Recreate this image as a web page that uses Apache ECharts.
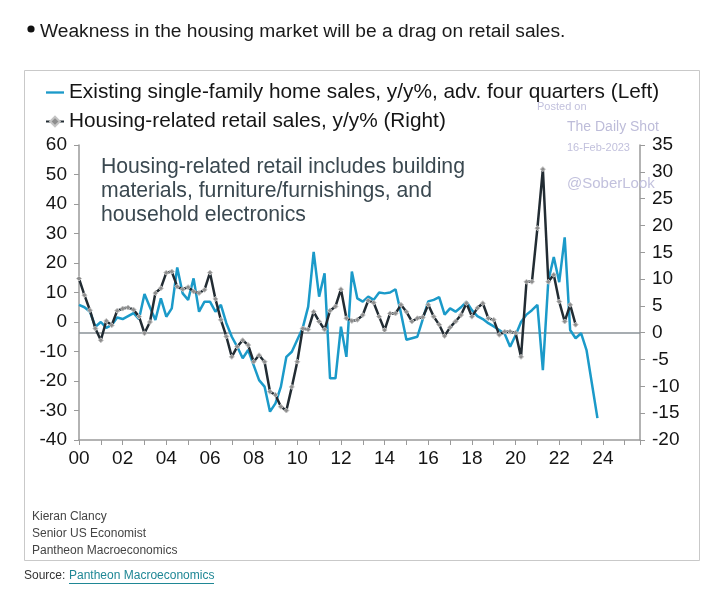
<!DOCTYPE html>
<html>
<head>
<meta charset="utf-8">
<script src="https://cdn.jsdelivr.net/npm/echarts@6/dist/echarts.min.js"></script>
<style>
html,body{margin:0;padding:0;background:#fff;}
#chart{width:720px;height:592px;}
</style>
</head>
<body>
<div id="chart"></div>
<script>
// ---- data (quarterly, starting 2000 Q1) ----
const startYear = 2000;
const seriesNames = [
  'Existing single-family home sales, y/y%, adv. four quarters (Left)',
  'Housing-related retail sales, y/y% (Right)'
];
// Existing single-family home sales, y/y%, advanced four quarters (left axis)
const homeSales = [
  5.8, 5.0, 3.5, -1.6,   0.0, -2.0, -1.0, 1.5,   1.0, 2.0, 3.0, 1.0,
  9.5, 5.0, 0.7, 8.0,    1.8, 4.6, 18.5, 9.7,   7.5, 14.8, 3.5, 6.9,
  6.9, 3.5, 5.8, -0.4,   -5.0, -8.4, -12.3, -9.5,   -14.6, -19.7, -21.9, -30.4,
  -27.6, -21.9, -11.8, -10.1,   -6.0, -2.0, 5.2, 23.8,   8.6, 16.5, -19.1, -19.1,
  -1.6, -11.8, 17.1, 8.0,   6.9, 8.6, 7.5, 10.0,   9.7, 10.0, 11.1, 3.0,
  -6.0, -5.5, -5.0, 1.0,   7.0, 7.5, 8.4, 2.5,   4.6, 3.5, 5.0, 6.9,
  4.0, 2.0, 1.0, -0.4,   -1.5, -2.7, -4.0, -8.4,   -4.5, 0.0, 2.5, 4.0,
  5.8, -16.3, 14.0, 22.0,   13.5, 28.7, -2.7, -5.5,   -3.8, -9.5, -21.0, -32.6
];
// Housing-related retail sales, y/y% (right axis)
const retailSales = [
  10.1, 7.0, 4.2, 0.8,   -1.4, 2.2, 1.4, 4.1,   4.5, 4.7, 4.3, 3.0,
  -0.1, 2.0, 7.4, 8.3,   11.2, 11.4, 8.6, 8.1,   8.5, 7.7, 7.4, 8.0,
  11.2, 6.3, 2.4, -0.7,   -4.5, -2.6, -1.4, -2.3,   -5.4, -4.2, -5.4, -11.0,
  -11.6, -13.8, -14.5, -10.1,   -5.4, 0.8, 0.6, 3.9,   2.1, 0.6, 4.1, 4.9,
  8.1, 2.7, 2.2, 2.4,   3.3, 6.0, 5.6, 3.0,   0.5, 3.6, 3.6, 5.2,
  3.9, 2.1, 2.7, 2.9,   5.2, 3.0, 1.5, -0.6,   1.0, 2.1, 3.3, 5.5,
  3.0, 4.6, 5.5, 2.7,   2.4, -0.4, 0.2, 0.2,   0.0, -4.5, 9.5, 9.5,
  19.5, 30.5, 9.5, 10.8,   5.8, 2.1, 5.2, 1.5
];
const leftTicks = {min: -40, max: 60, step: 10};
const rightTicks = {min: -20, max: 35, step: 5};
const xRange = {min: 2000, max: 2025.7, step: 1};

const toPairs = arr => arr.map((v, i) => [startYear + i * 0.25, v]);

const FONT = '"Liberation Sans", Arial, sans-serif';
const chart = echarts.init(document.getElementById('chart'), null, {renderer: 'canvas'});

const option = {
  backgroundColor: '#ffffff',
  animation: false,
  textStyle: {fontFamily: FONT},
  grid: {left: 79, right: 80, top: 145, bottom: 152, containLabel: false},
  legend: {
    orient: 'vertical', left: 45, top: 82, itemGap: 8, padding: 0,
    itemWidth: 18, itemHeight: 12, itemTextGap: 5,
    textStyle: {fontSize: 20.8, color: '#151515', fontFamily: FONT},
    data: [
      {name: seriesNames[0], icon: 'path://M0,0H20V2.6H0Z'},
      {name: seriesNames[1]}
    ]
  },
  xAxis: {
    type: 'value', min: xRange.min, max: xRange.max, interval: xRange.step,
    axisLine: {show: true, onZero: false, lineStyle: {color: '#9a9a9a', width: 1.5}},
    axisTick: {show: true, inside: false, length: 5, lineStyle: {color: '#9a9a9a'}},
    splitLine: {show: false},
    axisLabel: {
      fontSize: 19, color: '#151515', margin: 9, fontFamily: FONT,
      formatter: v => (Number.isInteger(v) && v % 2 === 0) ? String(v % 100).padStart(2, '0') : ''
    }
  },
  yAxis: [
    {
      type: 'value', min: leftTicks.min, max: leftTicks.max, interval: leftTicks.step, position: 'left',
      axisLine: {show: true, onZero: false, lineStyle: {color: '#9a9a9a', width: 1.5}},
      axisTick: {show: true, inside: false, length: 5, lineStyle: {color: '#9a9a9a'}},
      splitLine: {show: false},
      axisLabel: {fontSize: 19, color: '#151515', margin: 12, fontFamily: FONT}
    },
    {
      type: 'value', min: rightTicks.min, max: rightTicks.max, interval: rightTicks.step, position: 'right',
      axisLine: {show: true, onZero: false, lineStyle: {color: '#9a9a9a', width: 1.5}},
      axisTick: {show: true, inside: false, length: 5, lineStyle: {color: '#9a9a9a'}},
      splitLine: {show: false},
      axisLabel: {fontSize: 19, color: '#151515', margin: 12, fontFamily: FONT}
    }
  ],
  series: [
    {
      name: seriesNames[0], type: 'line', yAxisIndex: 0,
      data: toPairs(homeSales),
      symbol: 'none', showSymbol: false,
      lineStyle: {color: '#1b9ac9', width: 2.5},
      itemStyle: {color: '#1b9ac9'},
      z: 3
    },
    {
      name: seriesNames[1], type: 'line', yAxisIndex: 1,
      data: toPairs(retailSales),
      symbol: 'diamond', symbolSize: 5, showSymbol: true,
      lineStyle: {color: '#222c33', width: 2.5},
      itemStyle: {color: '#8d8d8d', borderColor: '#c4c4c4', borderWidth: 1},
      z: 4,
      markLine: {
        silent: true, symbol: 'none', label: {show: false},
        lineStyle: {color: '#8a9297', width: 1.5, type: 'solid'},
        data: [{yAxis: 0}],
        z: 2
      }
    }
  ],
  graphic: [
    // page bullet text
    {type: 'circle', shape: {cx: 31, cy: 29, r: 3.6}, style: {fill: '#111'}},
    {type: 'text', x: 40, y: 32, style: {text: 'Weakness in the housing market will be a drag on retail sales.',
      fontSize: 19.2, fontFamily: FONT, fill: '#1a1a1a', verticalAlign: 'middle'}},
    // chart frame
    {type: 'rect', shape: {x: 24.5, y: 70.5, width: 675, height: 490}, style: {fill: 'none', stroke: '#c9c9c9', lineWidth: 1}, z: -1},
    // watermark
    {type: 'text', x: 537, y: 107, style: {text: 'Posted on', fontSize: 11, fontFamily: FONT, fill: '#c2c1dd', verticalAlign: 'middle'}},
    {type: 'text', x: 567, y: 127, style: {text: 'The Daily Shot', fontSize: 14, fontFamily: FONT, fill: '#bdbcd9', verticalAlign: 'middle'}},
    {type: 'text', x: 567, y: 148, style: {text: '16-Feb-2023', fontSize: 11, fontFamily: FONT, fill: '#c2c1dd', verticalAlign: 'middle'}},
    {type: 'text', x: 567, y: 184, style: {text: '@SoberLook', fontSize: 15, fontFamily: FONT, fill: '#c2c1dd', verticalAlign: 'middle'}, z: 1},
    // annotation
    {type: 'text', x: 101, y: 167, style: {text: 'Housing-related retail includes building', fontSize: 21.2, fontFamily: FONT, fill: '#3a4850', verticalAlign: 'middle'}},
    {type: 'text', x: 101, y: 191, style: {text: 'materials, furniture/furnishings, and', fontSize: 21.2, fontFamily: FONT, fill: '#3a4850', verticalAlign: 'middle'}},
    {type: 'text', x: 101, y: 215, style: {text: 'household electronics', fontSize: 21.2, fontFamily: FONT, fill: '#3a4850', verticalAlign: 'middle'}},
    // author
    {type: 'text', x: 32, y: 517, style: {text: 'Kieran Clancy', fontSize: 12, fontFamily: FONT, fill: '#444', verticalAlign: 'middle'}},
    {type: 'text', x: 32, y: 534, style: {text: 'Senior US Economist', fontSize: 12, fontFamily: FONT, fill: '#444', verticalAlign: 'middle'}},
    {type: 'text', x: 32, y: 551, style: {text: 'Pantheon Macroeconomics', fontSize: 12, fontFamily: FONT, fill: '#444', verticalAlign: 'middle'}},
    // source
    {type: 'text', x: 24, y: 576, style: {text: 'Source: ', fontSize: 12, fontFamily: FONT, fill: '#333', verticalAlign: 'middle'}},
    {type: 'text', x: 69, y: 576, style: {text: 'Pantheon Macroeconomics', fontSize: 12, fontFamily: FONT, fill: '#1f8795', verticalAlign: 'middle'}},
    {type: 'line', shape: {x1: 69, y1: 583.5, x2: 214, y2: 583.5}, style: {stroke: '#1f8795', lineWidth: 1}}
  ]
};
chart.setOption(option);
</script>
</body>
</html>
